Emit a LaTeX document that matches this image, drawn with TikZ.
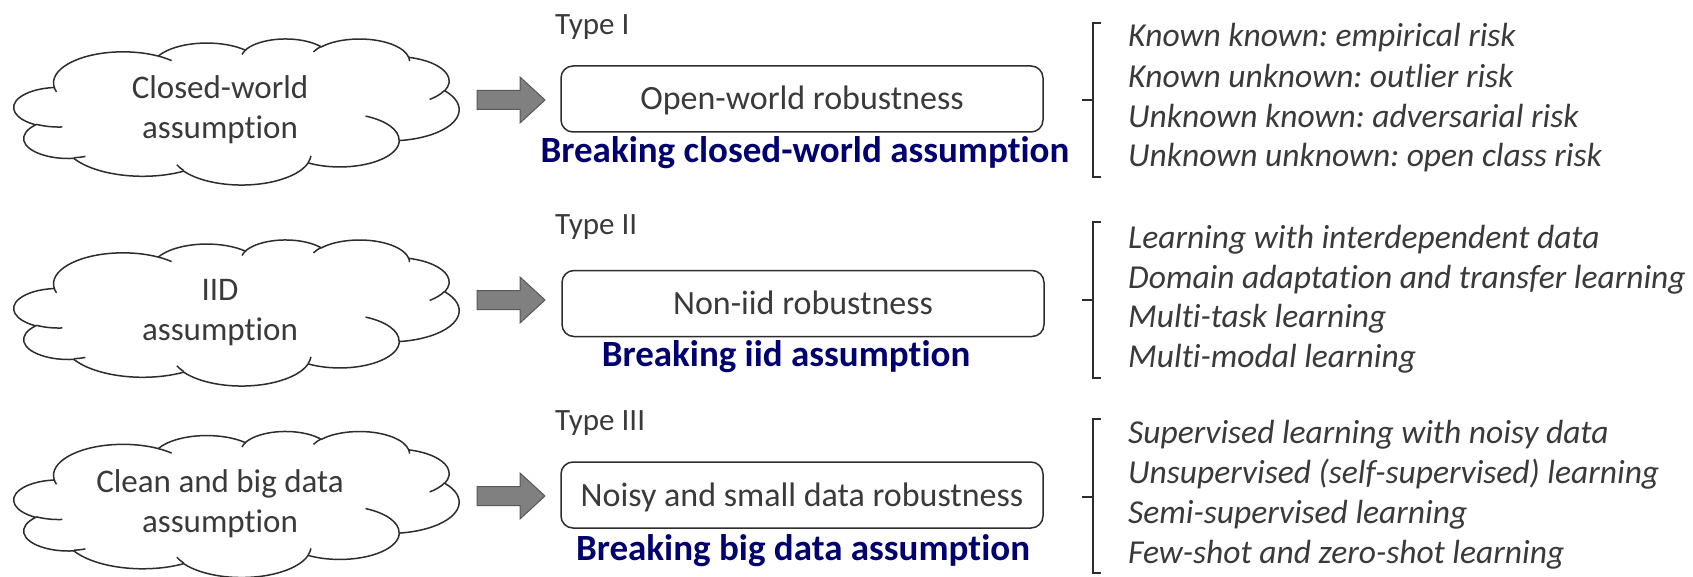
\documentclass[tikz,border=0pt]{standalone}
\usepackage{fontspec}
\setmainfont{Carlito}[Ligatures=NoCommon]
\frenchspacing
\definecolor{txt}{RGB}{58,58,58}
\definecolor{navyb}{RGB}{0,0,112}
\definecolor{arrowfill}{RGB}{128,128,128}
\definecolor{arrowdraw}{RGB}{88,88,88}
\definecolor{linec}{RGB}{45,45,45}
% PowerPoint-style cloud: arcTo with visual angles converted to parametric ones
\newcommand\cldcalc[4]{%
  \pgfmathparse{atan2(#1*sin(#3),#2*cos(#3))}\global\let\cldTa\pgfmathresult
  \pgfmathparse{atan2(#1*sin(#3+#4),#2*cos(#3+#4))}\global\let\cldTb\pgfmathresult
  \pgfmathparse{(\cldTb<\cldTa) ? (\cldTb+360) : \cldTb}\global\let\cldTb\pgfmathresult
}
\newcommand\cldarc[4]{\pgfextra{\cldcalc{#1}{#2}{#3}{#4}} arc[start angle=\cldTa, end angle=\cldTb, x radius=#1, y radius=#2]}
\newcommand\cldoutline{(39.00,143.70)
 \cldarc{67.53}{91.90}{-190.4875}{123.7805}
 \cldarc{53.33}{72.67}{-144.1024}{89.9452}
 \cldarc{43.65}{59.45}{-145.8079}{99.7230}
 \cldarc{48.57}{65.95}{-130.9861}{117.2417}
 \cldarc{53.33}{72.73}{-78.7089}{109.0269}
 \cldarc{67.75}{92.20}{-46.2673}{130.2690}
 \cldarc{57.85}{78.67}{0.6250}{114.0333}
 \cldarc{67.52}{92.15}{22.4516}{115.1726}
 \cldarc{77.20}{105.43}{66.2426}{75.7110}
 \cldarc{43.60}{59.18}{-274.9421}{146.7356}
 \cldarc{43.45}{59.45}{-246.8285}{152.5189} -- cycle}
\newcommand\cldinner{(46.93,261.77) \cldarc{43.45}{59.45}{86.7420}{26.4295}
 (69.28,348.99) \cldarc{43.60}{59.18}{73.6105}{11.4475}
 (164.78,390.90) \cldarc{67.52}{92.15}{137.6242}{14.0811}
 (288.27,347.51) \cldarc{67.52}{92.15}{6.4533}{15.9984}
 (341.29,229.54) \cldarc{57.85}{78.67}{-70.2924}{70.9174}
 (417.98,153.54) \cldarc{53.33}{72.73}{30.3180}{27.7515}
 (383.24,54.26) \cldarc{48.57}{65.95}{-13.7443}{14.8589}
 (290.78,39.52) \cldarc{48.57}{65.95}{-149.1815}{18.1954}
 (221.41,47.20) \cldarc{43.65}{59.45}{-163.4943}{17.6864}
 (140.00,51.92) \cldarc{67.53}{91.90}{-66.7070}{12.3194}
 (41.27,157.89) \cldarc{67.53}{91.90}{157.6544}{11.8582}}
\newcommand\drawcloud[1]{%
  \begin{scope}[shift={(14,#1)}, x=1.03009pt, y=-0.33796pt]
    \draw[cloudline, fill=white] \cldoutline;
    \draw[cloudline] \cldinner;
  \end{scope}}
\newcommand\blockarrow[1]{%
  \filldraw[fill=arrowfill, draw=arrowdraw, line width=1pt]
    (477,#1-9.5) -- (520,#1-9.5) -- (520,#1-23) -- (545,#1) -- (520,#1+23)
    -- (520,#1+9.5) -- (477,#1+9.5) -- cycle;}
\newcommand\bracketat[3]{%
  \draw[brline] (1101,#1) -- (1093,#1) -- (1093,#3) -- (1101,#3);
  \draw[brline] (1093,#2) -- (1082,#2);}
\begin{document}
\begin{tikzpicture}[x=1pt, y=-1pt,
  cloudline/.style={draw=linec, line width=1.5pt},
  brline/.style={draw=linec, line width=1.5pt},
  cldtxt/.style={text=txt, inner sep=0pt, anchor=base, font=\fontsize{33}{40}\selectfont},
  typel/.style={text=txt, inner sep=0pt, anchor=base west, font=\fontsize{31}{37}\selectfont},
  rbox/.style={draw=linec, line width=1.5pt, rounded corners=12pt, fill=white,
    minimum width=482pt, minimum height=66pt, inner sep=0pt, text=txt,
    text height=22pt, text depth=0pt, font=\fontsize{34}{40}\selectfont},
  brk/.style={text=navyb, inner sep=0pt, anchor=base, font=\bfseries\fontsize{37}{44}\selectfont},
  item/.style={text=txt, inner sep=0pt, anchor=base west, font=\itshape\fontsize{33.5}{40}\selectfont}]
\useasboundingbox[fill=white] (0,0) rectangle (1693,577);

% clouds
\drawcloud{38.5}
\drawcloud{239.5}
\drawcloud{431}
\node[cldtxt] (c1a) at (220,99) {Closed-world};
\node[cldtxt] (c1b) at (220,139) {assumption};
\node[cldtxt] (c2a) at (220,300) {IID};
\node[cldtxt] (c2b) at (220,340) {assumption};
\node[cldtxt] (c3a) at (220,492) {Clean and big data};
\node[cldtxt] (c3b) at (220,532) {assumption};

% block arrows
\blockarrow{100}
\blockarrow{300}
\blockarrow{496}

% type labels, boxes, breaking labels
\node[typel] (t1) at (555,35) {Type I};
\node[typel] (t2) at (555,235) {Type II};
\node[typel] (t3) at (555,430) {Type III};
\node[rbox] (b1) at (802,99) {Open-world robustness};
\node[rbox] (b2) at (803,303.5) {Non-iid robustness};
\node[rbox] (b3) at (802,495) {Noisy and small data robustness};
\node[brk] (k1) at (805,163) {Breaking closed-world assumption};
\node[brk] (k2) at (786,366) {Breaking iid assumption};
\node[brk] (k3) at (803,560) {Breaking big data assumption};

% brackets
\bracketat{23}{100}{177}
\bracketat{222}{300}{378}
\bracketat{419}{497}{573}

% lists
\node[item] (l11) at (1128,47) {Known known: empirical risk};
\node[item] (l12) at (1128,88) {Known unknown: outlier risk};
\node[item] (l13) at (1128,128) {Unknown known: adversarial risk};
\node[item] (l14) at (1128,167) {Unknown unknown: open class risk};
\node[item] (l21) at (1128,248) {Learning with interdependent data};
\node[item] (l22) at (1128,288) {Domain adaptation and transfer learning};
\node[item] (l23) at (1128,327) {Multi-task learning};
\node[item] (l24) at (1128,367) {Multi-modal learning};
\node[item] (l31) at (1128,443) {Supervised learning with noisy data};
\node[item] (l32) at (1128,483) {Unsupervised (self-supervised) learning};
\node[item] (l33) at (1128,523) {Semi-supervised learning};
\node[item] (l34) at (1128,563) {Few-shot and zero-shot learning};
\end{tikzpicture}
\end{document}
